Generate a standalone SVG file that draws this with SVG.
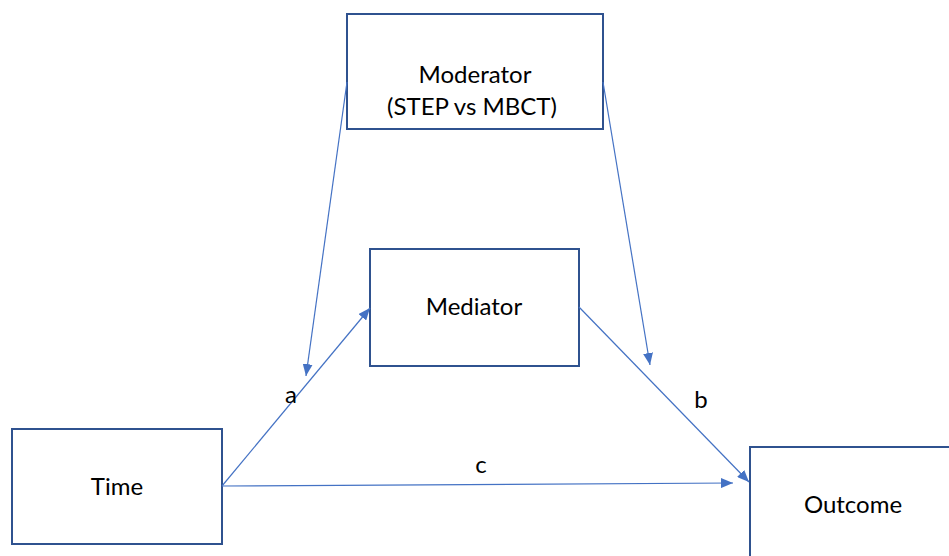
<svg xmlns="http://www.w3.org/2000/svg" width="949" height="556" viewBox="0 0 949 556">
<defs>
<marker id="arr" viewBox="0 0 12 10" refX="12" refY="5" markerWidth="12" markerHeight="10" markerUnits="userSpaceOnUse" orient="auto">
<path d="M0,0 L12,5 L0,10 z" fill="#4472C4"/>
</marker>
<style>
.box{fill:#fff;stroke:#2F528F;stroke-width:2}
.lbl{font-family:Lato,"Open Sans","Liberation Sans",sans-serif;font-size:24px;fill:#000;text-anchor:middle}
.con{stroke:#4472C4;stroke-width:1.2;fill:none;marker-end:url(#arr)}
</style>
</defs>
<rect width="949" height="556" fill="#fff"/>
<g id="moderator"><rect class="box" x="347" y="14" width="256" height="115"/><text class="lbl" x="475" y="83">Moderator</text><text class="lbl" x="472" y="115">(STEP vs MBCT)</text></g>
<g id="mediator"><rect class="box" x="370" y="249" width="209" height="117"/><text class="lbl" x="474" y="315">Mediator</text></g>
<g id="time"><rect class="box" x="12" y="429" width="210" height="115"/><text class="lbl" x="117" y="495">Time</text></g>
<g id="outcome"><rect class="box" x="750" y="447" width="210" height="120"/><text class="lbl" x="853" y="513">Outcome</text></g>
<g id="connectors">
<line class="con" x1="347" y1="82" x2="306" y2="376"/>
<line class="con" x1="603" y1="82" x2="650" y2="365"/>
<line class="con" x1="222" y1="486" x2="370" y2="308"/>
<line class="con" x1="579" y1="307" x2="749" y2="482"/>
<line class="con" x1="222" y1="486" x2="733" y2="483"/>
<text class="lbl" x="291" y="403">a</text>
<text class="lbl" x="701" y="408">b</text>
<text class="lbl" x="481" y="473">c</text>
</g>
</svg>
